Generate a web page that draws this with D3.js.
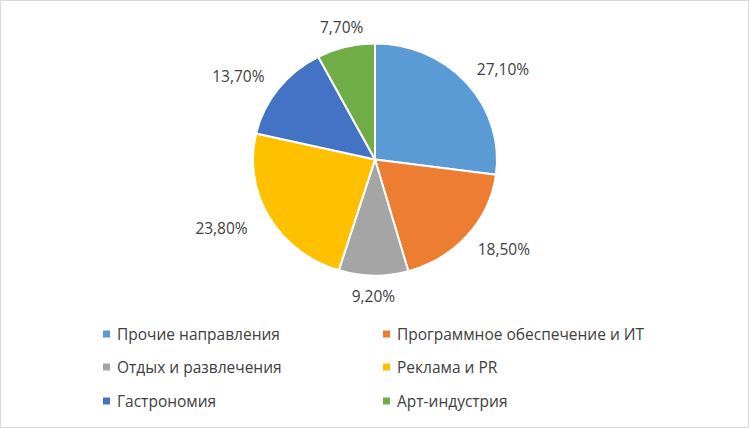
<!DOCTYPE html>
<html><head><meta charset="utf-8">
<script src="https://cdn.jsdelivr.net/npm/d3@7"></script>
<style>html,body{margin:0;padding:0;background:#fff;}svg{display:block;}</style>
</head><body>
<svg id="c" width="749" height="428"></svg>
<script>
const categories = ["Прочие направления","Программное обеспечение и ИТ","Отдых и развлечения","Реклама и PR","Гастрономия","Арт-индустрия"];
const values = [27.1, 18.5, 9.2, 23.8, 13.7, 7.7];
const labels = ["27,10%","18,50%","9,20%","23,80%","13,70%","7,70%"];
const colors = ["#5B9BD5","#ED7D31","#A5A5A5","#FFC000","#4472C4","#70AD47"];

const svg = d3.select("#c");
svg.append("rect").attr("x",0.5).attr("y",0.5).attr("width",748).attr("height",427)
  .attr("fill","#fff").attr("stroke","#d9d9d9");

const cx = 375, cy = 159.5, r = 122, sy = 116/122;
const pie = d3.pie().sort(null).value(d => d)(values);
const arc = d3.arc().innerRadius(0).outerRadius(r);

const g = svg.append("g").attr("transform", `translate(${cx},${cy}) scale(1,${sy})`);
g.selectAll("path").data(pie).join("path")
  .attr("d", arc).attr("fill", (d,i) => colors[i])
  .attr("stroke", "#fff").attr("stroke-width", 2).attr("stroke-linejoin","round");

function labelPos(d) {
  const a = (d.startAngle + d.endAngle) / 2;
  const s = Math.sin(a), c = -Math.cos(a);
  return [s * (125 + 60 * Math.abs(s)), c * 137];
}
const lg = svg.append("g").attr("transform", `translate(${cx},${cy})`);
lg.selectAll("text").data(pie).join("text")
  .attr("x", d => labelPos(d)[0])
  .attr("y", d => labelPos(d)[1])
  .attr("text-anchor","middle").attr("dominant-baseline","central")
  .attr("font-family","Open Sans, sans-serif").attr("font-size", 15.5)
  .attr("fill","#404040")
  .text((d,i) => labels[i]);

const colX = [103, 383], rowY = [334, 367, 401];
const leg = svg.append("g");
categories.forEach((c,i) => {
  const x = colX[i % 2], y = rowY[Math.floor(i/2)];
  leg.append("rect").attr("x", x).attr("y", y - 3.5).attr("width", 7).attr("height", 7).attr("fill", colors[i]);
  leg.append("text").attr("x", x + 14).attr("y", y).attr("dominant-baseline","central")
    .attr("font-family","Open Sans, sans-serif").attr("font-size", 15.5).attr("fill","#404040")
    .text(c);
});
</script>
</body></html>
